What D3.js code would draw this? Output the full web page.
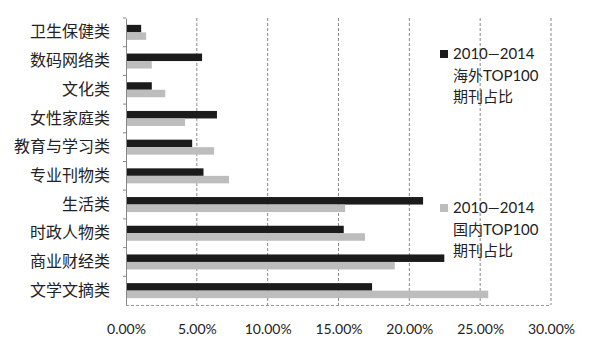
<!DOCTYPE html>
<html><head><meta charset="utf-8">
<script src="https://cdn.jsdelivr.net/npm/d3@7"></script>
<style>
body{margin:0;background:#fff;}
svg{display:block;}
text{font-family:"Lato","Noto Sans CJK SC",sans-serif;}
</style></head>
<body><svg id="c" width="590" height="358"></svg>
<script>
const categories = ["卫生保健类","数码网络类","文化类","女性家庭类","教育与学习类","专业刊物类","生活类","时政人物类","商业财经类","文学文摘类"];
const overseas = [1.0, 5.3, 1.75, 6.35, 4.6, 5.4, 20.9, 15.3, 22.4, 17.3];
const domestic = [1.35, 1.75, 2.7, 4.1, 6.15, 7.2, 15.4, 16.8, 18.9, 25.5];
const ticks = [0, 5, 10, 15, 20, 25, 30];
const seriesNames = [["2010—2014","海外TOP100","期刊占比"],["2010—2014","国内TOP100","期刊占比"]];
const colors = ["#1b1b1b","#bdbdbd"];

const svg = d3.select("#c");
const m = {l:126, r:39, t:18, b:53};
const W = 590, H = 358;
const x = d3.scaleLinear().domain([0,30]).range([m.l, W-m.r]);
const y = d3.scaleBand().domain(categories).range([m.t, H-m.b]);

// gridlines
svg.append("g").selectAll("line").data(ticks.slice(1)).join("line")
  .attr("x1", d=>x(d)).attr("x2", d=>x(d))
  .attr("y1", m.t).attr("y2", H-m.b)
  .attr("stroke","#888").attr("stroke-width",1).attr("stroke-dasharray","3,2");
// bottom axis line (dashed)
svg.append("line").attr("x1", x(0)).attr("x2", x(30)).attr("y1", H-m.b+0.5).attr("y2", H-m.b+0.5)
  .attr("stroke","#999").attr("stroke-dasharray","3,2");

// x axis labels
const xa = d3.axisBottom(x).tickValues(ticks).tickFormat(d=>d.toFixed(2)+"%").tickSize(0).tickPadding(19);
svg.append("g").attr("transform",`translate(0,${H-m.b})`).call(xa)
  .call(g=>g.select(".domain").remove())
  .selectAll("text").attr("font-size",14).attr("fill","#222");

// y axis
const ya = d3.axisLeft(y).tickSize(0).tickPadding(16);
const yg = svg.append("g").attr("transform",`translate(${m.l},0)`).call(ya);
yg.select(".domain").attr("stroke","#888");
yg.selectAll("text").attr("font-size",16).attr("fill","#222").attr("font-family","Noto Sans CJK SC");
// small tick marks at band boundaries
svg.append("g").selectAll("line").data(categories).join("line")
  .attr("x1", m.l-3).attr("x2", m.l)
  .attr("y1", d=>y(d)).attr("y2", d=>y(d)).attr("stroke","#888");

const bh = 7.5;
const off = y.bandwidth()/2 - bh;
svg.append("g").selectAll("rect").data(categories).join("rect")
  .attr("x", x(0)+1).attr("y", d=>y(d)+off)
  .attr("width", (d,i)=>x(overseas[i])-x(0)).attr("height", bh).attr("fill", colors[0]);
svg.append("g").selectAll("rect").data(categories).join("rect")
  .attr("x", x(0)+1).attr("y", d=>y(d)+off+bh)
  .attr("width", (d,i)=>x(domestic[i])-x(0)).attr("height", bh).attr("fill", colors[1]);

// legends
const legY = [59, 213];
seriesNames.forEach((lines, k)=>{
  const g = svg.append("g");
  g.append("rect").attr("x",440).attr("y",legY[k]-9).attr("width",8).attr("height",8).attr("fill",colors[k]);
  lines.forEach((t,j)=>{
    g.append("text").attr("x",453).attr("y",legY[k]+j*21.5).attr("font-size",15).attr("fill","#222").text(t);
  });
});
</script></body></html>
